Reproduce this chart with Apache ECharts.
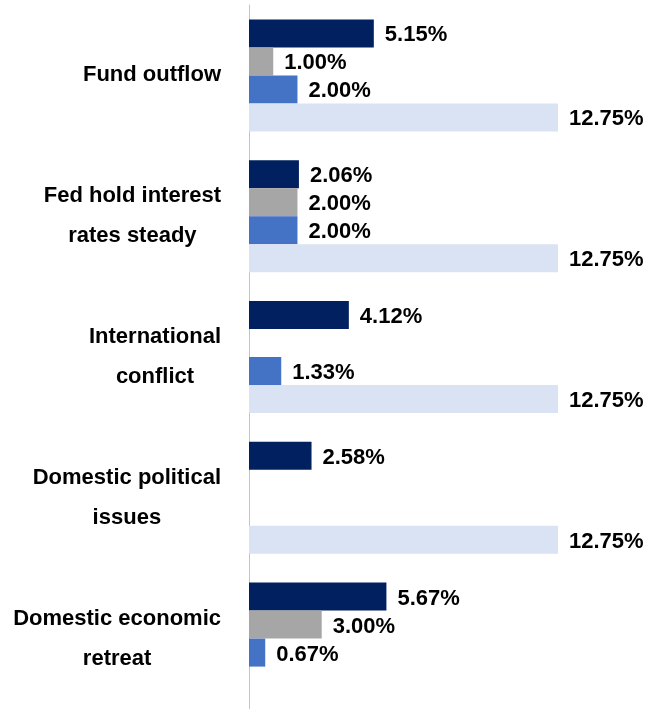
<!DOCTYPE html>
<html>
<head>
<meta charset="utf-8">
<script src="https://cdn.jsdelivr.net/npm/echarts@6/dist/echarts.min.js"></script>
<style>
html,body{margin:0;padding:0;background:#fff;}
#c{width:646px;height:709px;}
</style>
</head>
<body>
<div id="c"></div>
<script>
const categories = [
  'Fund outflow',
  'Fed hold interest\nrates steady',
  'International\nconflict',
  'Domestic political\nissues',
  'Domestic economic\nretreat'
];
const seriesA = [5.15, 2.06, 4.12, 2.58, 5.67];
const seriesB = [1.00, 2.00, null, null, 3.00];
const seriesC = [2.00, 2.00, 1.33, null, 0.67];
const seriesD = [12.75, 12.75, 12.75, 12.75, null];

const colors = ['#002060', '#a6a6a6', '#4472c4', '#dae3f3'];
const FONT = '"Liberation Sans", Arial, Helvetica, sans-serif';

function mk(data, color) {
  return {
    type: 'bar',
    data: data,
    barWidth: 28,
    barGap: '0%',
    itemStyle: { color: color },
    label: {
      show: true,
      position: 'right',
      distance: 11,
      offset: [0, 2],
      color: '#000',
      fontFamily: FONT,
      fontWeight: 'bold',
      fontSize: 22,
      formatter: p => (p.value == null ? '' : Number(p.value).toFixed(2) + '%')
    },
    animation: false
  };
}

const chart = echarts.init(document.getElementById('c'), null, { renderer: 'canvas' });
chart.setOption({
  backgroundColor: '#fff',
  animation: false,
  grid: { left: 249, top: 5, width: 309, height: 706, containLabel: false },
  xAxis: { type: 'value', min: 0, max: 12.75, show: false },
  yAxis: {
    type: 'category',
    inverse: true,
    data: categories,
    axisTick: { show: false },
    axisLine: { show: true, lineStyle: { color: '#c4c4c4', width: 1 } },
    splitLine: { show: false },
    axisLabel: {
      margin: 28,
      align: 'right',
      color: '#000',
      fontFamily: FONT,
      fontWeight: 'bold',
      fontSize: 22,
      lineHeight: 40,
      formatter: v => v.split('\n').map(l => '{c|' + l + '}').join('\n'),
      rich: {
        c: { align: 'center', fontFamily: FONT, fontWeight: 'bold', fontSize: 22, lineHeight: 40, color: '#000' }
      }
    }
  },
  series: [mk(seriesA, colors[0]), mk(seriesB, colors[1]), mk(seriesC, colors[2]), mk(seriesD, colors[3])]
});
</script>
</body>
</html>
